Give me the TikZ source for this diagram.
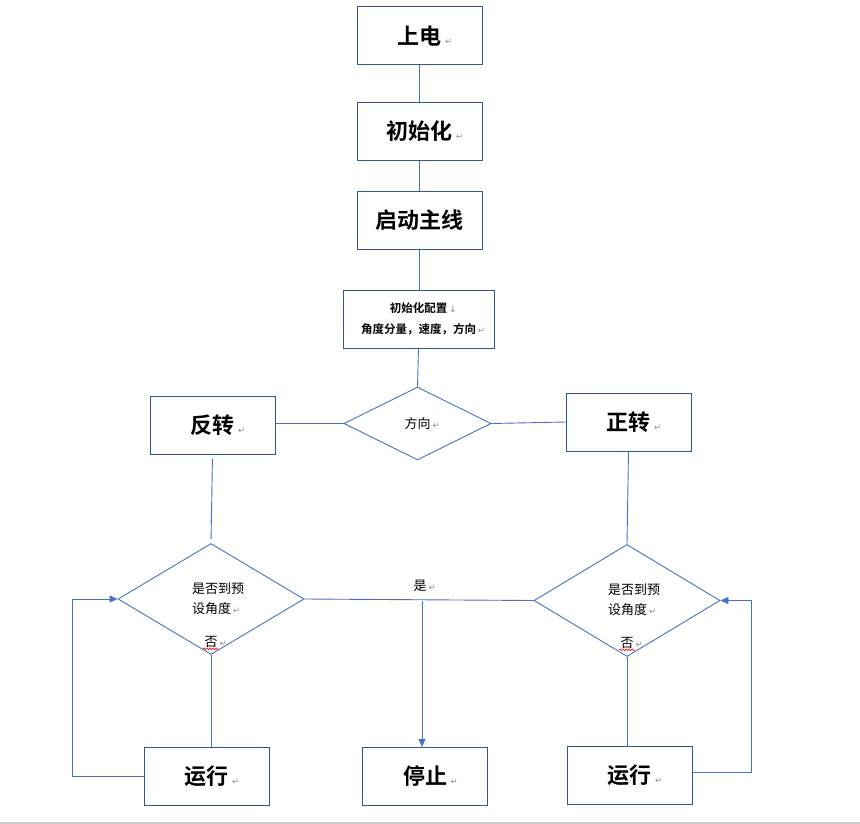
\documentclass[tikz,border=0pt]{standalone}
\usepackage{fontspec}
\setmainfont{Noto Sans CJK SC}[BoldFont={Noto Sans CJK SC Bold}]
\newfontfamily\dejavu{DejaVu Sans}
\usetikzlibrary{shapes.geometric,arrows.meta,decorations.pathmorphing,calc}
\definecolor{boxblue}{HTML}{2F5597}
\definecolor{lineblue}{HTML}{4472C4}
\definecolor{markgray}{HTML}{8A8A8A}
\newcommand{\rmark}{\makebox[0pt][l]{\,{\dejavu\mdseries\color{markgray}\fontsize{8.5}{8.5}\selectfont ↵}}}
\newcommand{\dmark}{\makebox[0pt][l]{\,{\dejavu\mdseries\color{markgray}\fontsize{9}{9}\selectfont ↓}}}
\begin{document}
\begin{tikzpicture}[x=1pt,y=-1pt,
  stepbox/.style={draw=boxblue,line width=1pt,minimum width=125pt,minimum height=58pt,inner sep=0pt,font=\fontsize{22}{26}\selectfont\bfseries},
  cfgbox/.style={draw=boxblue,line width=1pt,minimum width=151pt,minimum height=58pt,inner sep=0pt,align=center,font=\fontsize{11.5}{21}\selectfont\bfseries},
  decide/.style={diamond,draw=lineblue,line width=0.9pt,inner sep=0pt,font=\fontsize{13}{20}\selectfont},
  dtext/.style={align=left,inner sep=0pt,font=\fontsize{13}{20}\selectfont},
  conn/.style={draw=lineblue,line width=0.9pt},
  arr/.style={conn,-{Triangle[length=8pt,width=7pt]}},
  squig/.style={draw=red,line width=0.6pt,decorate,decoration={snake,amplitude=0.9pt,segment length=3pt}}
]
\useasboundingbox (0,0) rectangle (860,824);
\draw[gray!40,line width=1.5pt] (0,823) -- (860,823);

% boxes
\node[stepbox] (pw)   at (419.5,36)   {上电\rmark};
\node[stepbox] (init) at (419.5,131.5) {初始化\rmark};
\node[stepbox] (bus)  at (419.5,220.5) {启动主线};
\node[cfgbox]  (cfg)  at (418.5,319)  {初始化配置\dmark\\角度分量，速度，方向\rmark};
\node[decide,minimum width=147pt,minimum height=73pt] (dir) at (417.5,423.5) {方向\rmark};
\node[stepbox] (rev)  at (212.5,425)  {反转\rmark};
\node[stepbox] (fwd)  at (628.5,422)  {正转\rmark};
\node[decide,minimum width=186pt,minimum height=111pt] (dl) at (211,599) {};
\node[decide,minimum width=186pt,minimum height=112pt] (dr) at (627,600.5) {};
\node[dtext] (dltxt) at (218,599) {是否到预\\设角度\rmark};
\node[dtext] (drtxt) at (634,600) {是否到预\\设角度\rmark};
\node[dtext] (dlno) at (211,642) {否\rmark};
\node[dtext] (drno) at (627,643) {否\rmark};
\node[dtext] (yes) at (420,586) {是\rmark};
\node[stepbox] (runl) at (206.5,776.5) {运行\rmark};
\node[stepbox] (stop) at (425,776.5)   {停止\rmark};
\node[stepbox] (runr) at (629.5,775.5) {运行\rmark};

% spell-check squiggles
\draw[squig] ($(dlno.south west)+(-1,1)$) -- ($(dlno.south east)+(1,1)$);
\draw[squig] ($(drno.south west)+(-1,1)$) -- ($(drno.south east)+(1,1)$);

% connectors
\draw[conn] (pw.south) -- (init.north);
\draw[conn] (init.south) -- (bus.north);
\draw[conn] (bus.south) -- (bus.south |- cfg.north);
\draw[conn] (cfg.south) -- (dir.north);
\draw[conn] (dir.west) -- (rev.east |- dir.west);
\draw[conn] (dir.east) -- (fwd.west);
\draw[conn,shorten <=4pt,shorten >=4pt] (rev.south) -- (dl.north);
\draw[conn] (fwd.south) -- (dr.north);
\draw[conn] (dl.east) -- (dr.west);
\coordinate (j) at (422,600.5);
\draw[arr] (j) -- (j |- stop.north);
\draw[conn] (dl.south) -- (dl.south |- runl.north);
\draw[arr] (runl.west) -- ++(-71,0) |- (dl.west);
\draw[conn] (dr.south) -- (dr.south |- runr.north);
\draw[arr] ([yshift=3.5pt]runr.east) -- ++(59,0) |- (dr.east);
\end{tikzpicture}
\end{document}
